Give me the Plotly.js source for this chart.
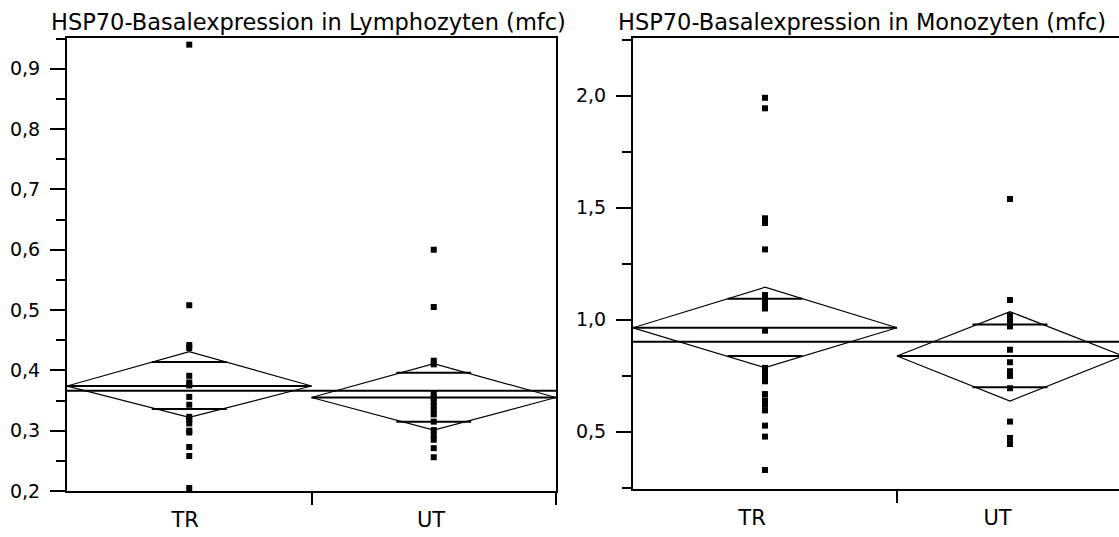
<!DOCTYPE html>
<html>
<head>
<meta charset="utf-8">
<script src="https://cdn.plot.ly/plotly-3.0.1.min.js"></script>
<style>html,body{margin:0;padding:0;background:#fff;}#chart{width:1119px;height:537px;}</style>
</head>
<body>
<div id="chart"></div>
<script>
// ---- data ----
var groups = ['TR', 'UT'];

// Panel 1: Lymphozyten
var lymTitle = 'HSP70-Basalexpression in Lymphozyten (mfc)';
var lymTR = [0.94, 0.508, 0.442, 0.437, 0.391, 0.38, 0.375, 0.356, 0.343, 0.323, 0.318, 0.312, 0.3, 0.297, 0.273, 0.258, 0.205];
var lymUT = [0.600, 0.505, 0.416, 0.41, 0.362, 0.355, 0.348, 0.341, 0.334, 0.327, 0.315, 0.301, 0.293, 0.285, 0.271, 0.256];
var lymMean = [0.374, 0.355];
var lymCIhi = [0.431, 0.411];
var lymCIlo = [0.322, 0.301];
var lymOvHi = [0.414, 0.396];
var lymOvLo = [0.336, 0.315];
var lymGrand = 0.366;
var lymBounds = [0, 1, 2];
var lymLabelPos = [0.483, 1.489];

// Panel 2: Monozyten
var monTitle = 'HSP70-Basalexpression in Monozyten (mfc)';
var monTR = [1.991, 1.944, 1.453, 1.432, 1.314, 1.11, 1.09, 1.07, 1.05, 0.951, 0.785, 0.765, 0.745, 0.725, 0.668, 0.64, 0.62, 0.595, 0.527, 0.478, 0.329];
var monUT = [1.539, 1.088, 1.02, 0.995, 0.97, 0.866, 0.81, 0.77, 0.749, 0.694, 0.545, 0.472, 0.445];
var monMean = [0.964, 0.838];
var monCIhi = [1.145, 1.036];
var monCIlo = [0.786, 0.637];
var monOvHi = [1.094, 0.979];
var monOvLo = [0.838, 0.698];
var monGrand = 0.902;
var monBounds = [0, 1, 1.856];
var monLabelPos = [0.451, 1.381];

// ---- build traces ----
var FONT = 'DejaVu Sans, Liberation Sans, Arial, sans-serif';
var W = 1119, H = 537;
var traces = [];

function addPanel(xa, ya, vals, mean, hi, lo, ovHi, ovLo, grand, bounds, xEnd, ovHalf) {
  for (var g = 0; g < 2; g++) {
    var s = bounds[g], e = bounds[g + 1], c = (s + e) / 2;
    // diamond
    traces.push({type: 'scatter', mode: 'lines', xaxis: xa, yaxis: ya,
      x: [s, c, e, c, s], y: [mean[g], hi[g], mean[g], lo[g], mean[g]],
      line: {color: '#000', width: 1.2}, hoverinfo: 'skip', showlegend: false});
    // mean line
    traces.push({type: 'scatter', mode: 'lines', xaxis: xa, yaxis: ya,
      x: [s, e], y: [mean[g], mean[g]],
      line: {color: '#000', width: 2}, hoverinfo: 'skip', showlegend: false});
    // overlap marks
    traces.push({type: 'scatter', mode: 'lines', xaxis: xa, yaxis: ya,
      x: [c - ovHalf, c + ovHalf, null, c - ovHalf, c + ovHalf],
      y: [ovHi[g], ovHi[g], null, ovLo[g], ovLo[g]],
      line: {color: '#000', width: 2}, hoverinfo: 'skip', showlegend: false});
    // points
    traces.push({type: 'scatter', mode: 'markers', xaxis: xa, yaxis: ya,
      x: vals[g].map(function () { return c; }), y: vals[g],
      marker: {symbol: 'square', size: 6, color: '#000', line: {width: 0}},
      name: groups[g], showlegend: false, cliponaxis: false});
  }
  // grand mean
  traces.push({type: 'scatter', mode: 'lines', xaxis: xa, yaxis: ya,
    x: [0, xEnd], y: [grand, grand],
    line: {color: '#000', width: 2}, hoverinfo: 'skip', showlegend: false});
}

addPanel('x', 'y', [lymTR, lymUT], lymMean, lymCIhi, lymCIlo, lymOvHi, lymOvLo, lymGrand, lymBounds, 2, 0.153);
addPanel('x2', 'y2', [monTR, monUT], monMean, monCIhi, monCIlo, monOvHi, monOvLo, monGrand, monBounds, 1.841, 0.142);

// label-carrier traces for the category label axes
traces.push({type: 'scatter', mode: 'none', xaxis: 'x3', yaxis: 'y', x: lymLabelPos, y: [lymGrand, lymGrand], hoverinfo: 'skip', showlegend: false});
traces.push({type: 'scatter', mode: 'none', xaxis: 'x4', yaxis: 'y2', x: monLabelPos, y: [monGrand, monGrand], hoverinfo: 'skip', showlegend: false});

var lineAx = {showline: true, linewidth: 2, linecolor: '#000', showgrid: false, zeroline: false,
  ticks: 'outside', tickcolor: '#000', tickwidth: 2, fixedrange: true};

function xAxis(domain, range, tickvals) {
  return Object.assign({}, lineAx, {domain: domain, range: range, tickvals: tickvals,
    showticklabels: false, ticklen: 12, mirror: true});
}
function labelAxis(over, domain, range, pos) {
  return {overlaying: over, domain: domain, range: range, tickvals: pos, ticktext: groups,
    showline: false, showgrid: false, zeroline: false, ticks: '', side: 'bottom',
    tickfont: {family: FONT, size: 21, color: '#000'}, ticklabelstandoff: 14, fixedrange: true};
}
function yAxis(domain, range, dtick, tick0, minorD, mirror) {
  return Object.assign({}, lineAx, {domain: domain, range: range, dtick: dtick, tick0: tick0,
    tickformat: '.1f', ticklen: 15, mirror: mirror,
    minor: {dtick: minorD, tick0: tick0, ticks: 'outside', ticklen: 9, tickwidth: 2, tickcolor: '#000', showgrid: false},
    tickfont: {family: FONT, size: 19, color: '#000'}, ticklabelstandoff: 6});
}

var d1 = [67 / W, 556 / W], d2 = [633 / W, 1];
var layout = {
  width: W, height: H,
  margin: {l: 0, r: 0, t: 0, b: 0, pad: 0},
  paper_bgcolor: '#fff', plot_bgcolor: '#fff',
  separators: ',.',
  showlegend: false,
  xaxis: xAxis(d1, [0, 2], [1, 2]),
  xaxis3: labelAxis('x', d1, [0, 2], lymLabelPos),
  yaxis: yAxis([(H - 491) / H, (H - 38) / H], [0.2, 0.951], 0.1, 0.2, 0.05, true),
  xaxis2: Object.assign(xAxis(d2, [0, 1.841], [1, 1.856]), {anchor: 'y2'}),
  xaxis4: Object.assign(labelAxis('x2', d2, [0, 1.841], monLabelPos), {anchor: 'y2'}),
  yaxis2: Object.assign(yAxis([(H - 489) / H, (H - 38) / H], [0.244, 2.258], 0.5, 0.5, 0.25, false), {anchor: 'x2'}),
  annotations: [
    {text: lymTitle, xref: 'paper', yref: 'paper', x: 308.5 / W, y: (H - 22) / H, xanchor: 'center', yanchor: 'middle',
      showarrow: false, font: {family: FONT, size: 22.5, color: '#000'}},
    {text: monTitle, xref: 'paper', yref: 'paper', x: 861.5 / W, y: (H - 22) / H, xanchor: 'center', yanchor: 'middle',
      showarrow: false, font: {family: FONT, size: 22.5, color: '#000'}}
  ]
};

Plotly.newPlot('chart', traces, layout, {displayModeBar: false, staticPlot: true});
</script>
</body>
</html>
